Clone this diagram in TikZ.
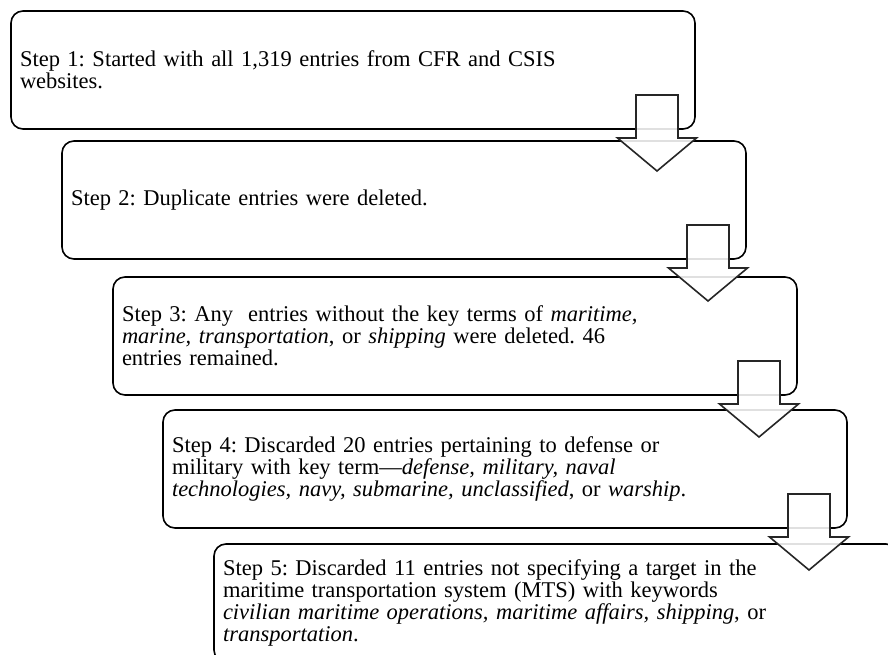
\documentclass[tikz,border=0pt]{standalone}
\usepackage{fontspec}
\setmainfont{Liberation Serif}
\usetikzlibrary{calc}
\frenchspacing

\tikzset{
    stepbox/.style={draw=black, line width=1.6pt, rounded corners=12pt, fill=white,
        minimum width=684pt, minimum height=118pt, text width=666pt, inner xsep=9pt,
        outer sep=0pt, align=left, anchor=north west,
        font=\fontsize{22.5}{22}\selectfont},
    blockarrow/.style={draw=black!85, line width=1.6pt, fill=white, fill opacity=0.88, line join=miter},
    downarrow/.pic={
        \draw[blockarrow] (-21,0) -- (21,0) -- (21,43) -- (39.5,43) -- (0,76) -- (-39.5,43) -- (-21,43) -- cycle;
    }
}

\begin{document}
\begin{tikzpicture}[x=1pt, y=-1pt]
        \clip (0,0) rectangle (888,655);

        % the five steps
        \node[stepbox] (s1) at (11, 11) {Step 1: Started with all 1,319 entries from CFR and CSIS\\ websites.};
        \node[stepbox] (s2) at (62, 141) {Step 2: Duplicate entries were deleted.};
        \node[stepbox] (s3) at (113, 277) {Step 3: Any\ \ entries without the key terms of \textit{maritime,}\\
            \textit{marine, transportation}, or \textit{shipping} were deleted. 46\\ entries remained.};
        \node[stepbox] (s4) at (163, 410) {Step 4: Discarded 20 entries pertaining to defense or\\
            military with key term---\textit{defense, military, naval}\\
            \textit{technologies, navy, submarine, unclassified}, or \textit{warship}.};
        \node[stepbox] (s5) at (214, 544) {Step 5: Discarded 11 entries not specifying a target in the\\
            maritime transportation system (MTS) with keywords\\
            \textit{civilian maritime operations, maritime affairs, shipping}, or\\
            \textit{transportation}.};

        % arrows between them
        \foreach \s in {s1, s2, s3, s4}
            \pic at ($(\s.south east)+(-38,-34)$) {downarrow};

    \end{tikzpicture}
\end{document}
